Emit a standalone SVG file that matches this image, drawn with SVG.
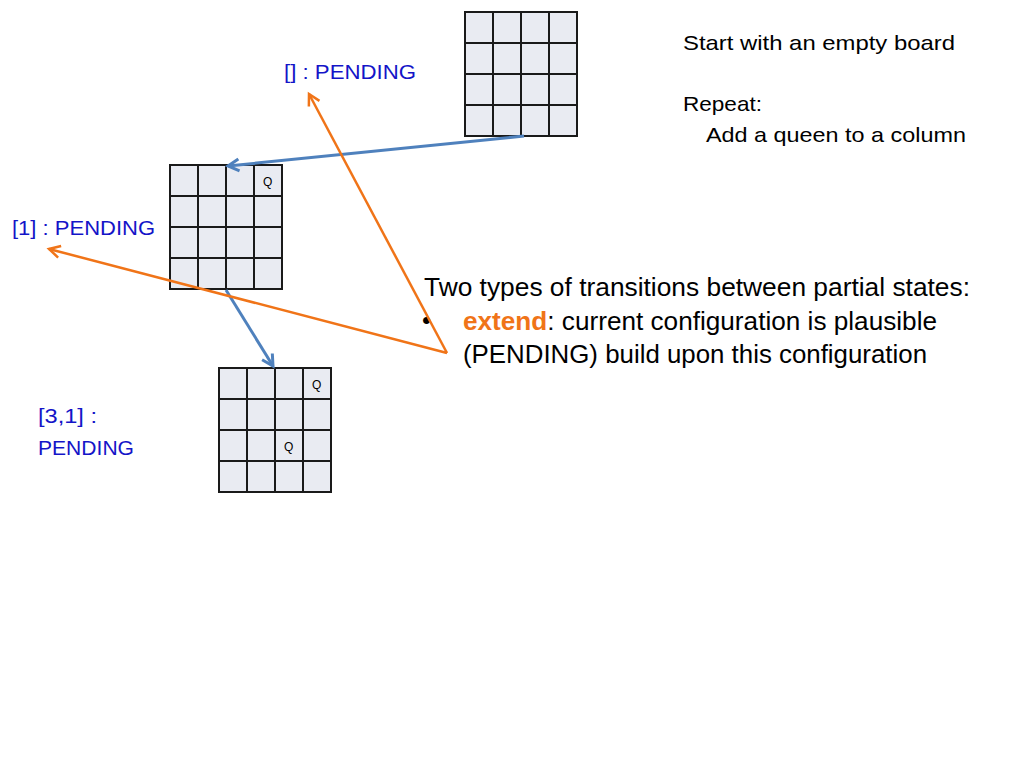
<svg xmlns="http://www.w3.org/2000/svg" width="1024" height="768" viewBox="0 0 1024 768">
<style>
.cell{fill:#E9EBF2;stroke:#1a1a1a;stroke-width:2}
.t{font-family:"Liberation Sans",Arial,sans-serif;fill:#000}
.blue{font-family:"Liberation Sans",Arial,sans-serif;fill:#1414C8;font-size:21px}
.q{font-family:"Liberation Sans",Arial,sans-serif;font-size:12px;fill:#000}
.ba{stroke:#4F81BD;stroke-width:3;fill:none}
.oa{stroke:#F07418;stroke-width:2.5;fill:none}
</style>
<defs>
<marker id="mb" markerUnits="userSpaceOnUse" markerWidth="16" markerHeight="16" refX="13" refY="8" orient="auto">
<path d="M2,2 L13,8 L2,14" fill="none" stroke="#4F81BD" stroke-width="3"/>
</marker>
<marker id="mo" markerUnits="userSpaceOnUse" markerWidth="16" markerHeight="16" refX="13" refY="8" orient="auto">
<path d="M2,2 L13,8 L2,14" fill="none" stroke="#F07418" stroke-width="2.5"/>
</marker>
<g id="grid">
<rect class="cell" x="0" y="0" width="28" height="31"/>
<rect class="cell" x="28" y="0" width="28" height="31"/>
<rect class="cell" x="56" y="0" width="28" height="31"/>
<rect class="cell" x="84" y="0" width="28" height="31"/>
<rect class="cell" x="0" y="31" width="28" height="31"/>
<rect class="cell" x="28" y="31" width="28" height="31"/>
<rect class="cell" x="56" y="31" width="28" height="31"/>
<rect class="cell" x="84" y="31" width="28" height="31"/>
<rect class="cell" x="0" y="62" width="28" height="31"/>
<rect class="cell" x="28" y="62" width="28" height="31"/>
<rect class="cell" x="56" y="62" width="28" height="31"/>
<rect class="cell" x="84" y="62" width="28" height="31"/>
<rect class="cell" x="0" y="93" width="28" height="31"/>
<rect class="cell" x="28" y="93" width="28" height="31"/>
<rect class="cell" x="56" y="93" width="28" height="31"/>
<rect class="cell" x="84" y="93" width="28" height="31"/>
</g>
</defs>
<rect width="1024" height="768" fill="#fff"/>

<g id="board0">
<use href="#grid" x="465" y="12"/>
</g>
<g id="board1">
<use href="#grid" x="170" y="165"/>
<text class="q" x="263" y="186">Q</text>
</g>
<g id="board2">
<use href="#grid" x="219" y="368"/>
<text class="q" x="312" y="389">Q</text>
<text class="q" x="284" y="451">Q</text>
</g>

<g id="labels">
<text class="blue" x="284" y="79" textLength="132" lengthAdjust="spacingAndGlyphs">[] : PENDING</text>
<text class="blue" x="12" y="235" textLength="143" lengthAdjust="spacingAndGlyphs">[1] : PENDING</text>
<text class="blue" x="38" y="423" textLength="59" lengthAdjust="spacingAndGlyphs">[3,1] :</text>
<text class="blue" x="38" y="455" textLength="96" lengthAdjust="spacingAndGlyphs">PENDING</text>
</g>

<g id="notes">
<text class="t" font-size="21" x="683" y="50" textLength="272" lengthAdjust="spacingAndGlyphs">Start with an empty board</text>
<text class="t" font-size="21" x="683" y="111" textLength="79" lengthAdjust="spacingAndGlyphs">Repeat:</text>
<text class="t" font-size="21" x="706" y="142" textLength="260" lengthAdjust="spacingAndGlyphs">Add a queen to a column</text>
</g>

<g id="explanation">
<text class="t" font-size="26" x="424" y="296" textLength="546" lengthAdjust="spacingAndGlyphs">Two types of transitions between partial states:</text>
<text class="t" font-size="26" x="422" y="329">•</text>
<text class="t" font-size="26" x="463" y="330" textLength="474" lengthAdjust="spacingAndGlyphs"><tspan fill="#F07418" font-weight="bold">extend</tspan>: current configuration is plausible</text>
<text class="t" font-size="26" x="463" y="363" textLength="464" lengthAdjust="spacingAndGlyphs">(PENDING) build upon this configuration</text>
</g>

<g id="connectors">
<line class="ba" x1="524" y1="136" x2="228" y2="166" marker-end="url(#mb)"/>
<line class="ba" x1="226" y1="290" x2="273" y2="366" marker-end="url(#mb)"/>
<line class="oa" x1="447" y1="353" x2="309" y2="94" marker-end="url(#mo)"/>
<line class="oa" x1="447" y1="353" x2="49" y2="249" marker-end="url(#mo)"/>
</g>
</svg>
